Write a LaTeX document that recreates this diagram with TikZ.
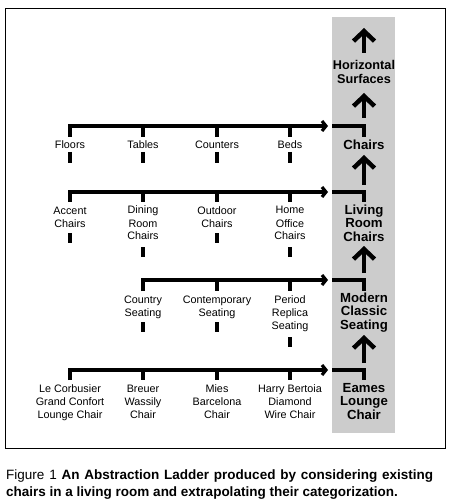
\documentclass[tikz,border=0pt]{standalone}
\usepackage{fontspec}
\setmainfont{Liberation Sans}
\usetikzlibrary{arrows.meta}
\definecolor{panel}{HTML}{CCCCCC}
\begin{document}
\begin{tikzpicture}[x=1pt,y=-1pt,
  lbl/.style={font=\fontsize{10.8}{13}\selectfont, align=center, inner sep=0pt, anchor=base},
  lvl/.style={font=\fontsize{13.2}{13.3}\selectfont\bfseries, align=center, inner sep=0pt, anchor=base},
  captext/.style={font=\fontsize{13.5}{17}\selectfont, inner sep=0pt, anchor=base west},
  bar/.style={line width=3.2pt},
  tick/.style={line width=3.2pt},
  harrow/.style={line width=3.2pt, -{Straight Barb[length=4pt,width=10pt]}},
  varrow/.style={line width=4.5pt, -{Straight Barb[length=10pt,width=21pt]}},
  frame/.style={line width=1pt}]
\useasboundingbox (0,0) rectangle (454,502);
\fill[panel] (332,17) rectangle (395,433);
\draw[frame] (5,9) rectangle (445,448);

% right column levels (anchor = baseline of last line)
\node[lvl, font=\fontsize{12.7}{13.6}\selectfont\bfseries] (hs) at (364,83.1) {Horizontal\\Surfaces};
\node[lvl] (ch) at (364,149.5) {Chairs};
\node[lvl] (lr) at (364,241.1) {Living\\Room\\Chairs};
\node[lvl] (mc) at (364,329.1) {Modern\\Classic\\Seating};
\node[lvl] (el) at (364,419.1) {Eames\\Lounge\\Chair};

\coordinate (a1s) at (364,53);  \coordinate (a1e) at (364,28);
\coordinate (a2s) at (364,118); \coordinate (a2e) at (364,93);
\coordinate (a3s) at (364,185); \coordinate (a3e) at (364,155);
\coordinate (a4s) at (364,273); \coordinate (a4e) at (364,246);
\coordinate (a5s) at (364,363); \coordinate (a5e) at (364,335);
\draw[varrow] (a1s) -- (a1e);
\draw[varrow] (a2s) -- (a2e);
\draw[varrow] (a3s) -- (a3e);
\draw[varrow] (a4s) -- (a4e);
\draw[varrow] (a5s) -- (a5e);

% row 1
\node[lbl] (floors) at (70,149) {Floors};
\node[lbl] (tables) at (143,149) {Tables};
\node[lbl] (counters) at (217,149) {Counters};
\node[lbl] (beds) at (290,149) {Beds};
\draw[harrow] (70,137) -- (70,126) -- (328,126);
\foreach \x in {143,217,290} \draw[tick] (\x,126) -- (\x,137);
\draw[bar] (332,126) -- (364,126) -- (364,137);
\foreach \x in {70,143,217,290} \draw[tick] (\x,152) -- (\x,163);

% row 2
\node[lbl] (accent) at (70,227) {Accent\\Chairs};
\node[lbl] (dining) at (143,240) {Dining\\Room\\Chairs};
\node[lbl] (outdoor) at (217,227) {Outdoor\\Chairs};
\node[lbl] (homeoff) at (290,240) {Home\\Office\\Chairs};
\draw[harrow] (70,202) -- (70,192) -- (328,192);
\foreach \x in {143,217,290} \draw[tick] (\x,192) -- (\x,202);
\draw[bar] (332,192) -- (364,192) -- (364,202);
\foreach \x in {70,217} \draw[tick] (\x,233) -- (\x,243);
\foreach \x in {143,290} \draw[tick] (\x,247) -- (\x,257);

% row 3
\node[lbl] (country) at (143,316) {Country\\Seating};
\node[lbl] (contemp) at (217,316) {Contemporary\\Seating};
\node[lbl] (period) at (290,329) {Period\\Replica\\Seating};
\draw[harrow] (143,291) -- (143,280) -- (328,280);
\foreach \x in {217,290} \draw[tick] (\x,280) -- (\x,291);
\draw[bar] (332,280) -- (364,280) -- (364,291);
\foreach \x in {143,217} \draw[tick] (\x,322) -- (\x,332);
\draw[tick] (290,337) -- (290,347);

% row 4
\node[lbl] (corb) at (70,418) {Le Corbusier\\Grand Confort\\Lounge Chair};
\node[lbl] (breuer) at (143,418) {Breuer\\Wassily\\Chair};
\node[lbl] (mies) at (217,418) {Mies\\Barcelona\\Chair};
\node[lbl] (bertoia) at (290,418) {Harry Bertoia\\Diamond\\Wire Chair};
\draw[harrow] (70,380) -- (70,370) -- (328,370);
\foreach \x in {143,217,290} \draw[tick] (\x,370) -- (\x,380);
\draw[bar] (332,370) -- (364,370) -- (364,380);

% caption
\node[captext] (cap1) at (6,479) {\makebox[427pt][s]{Figure 1 \textbf{An Abstraction Ladder produced by considering existing}}};
\node[captext] (cap2) at (6,496) {\textbf{chairs in a living room and extrapolating their categorization.}};
\end{tikzpicture}
\end{document}
